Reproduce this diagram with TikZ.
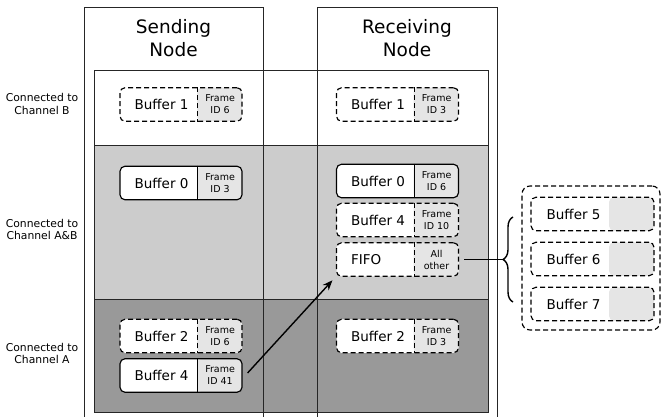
\documentclass[tikz,border=0pt]{standalone}
\usepackage{fontspec}
\setmainfont{DejaVu Sans}
\usetikzlibrary{arrows.meta,decorations.pathreplacing}
\definecolor{bandlight}{HTML}{CCCCCC}
\definecolor{banddark}{HTML}{999999}
\definecolor{frameid}{HTML}{E5E5E5}
\tikzset{
  colline/.style={draw=black!85,line width=0.9pt},
  band/.style={draw=black!85,line width=0.9pt},
  buf/.style={draw=black,line width=1.15pt,rounded corners=5pt,fill=white,
    minimum width=122pt,minimum height=33.5pt,inner sep=0pt,
    path picture={\fill[frameid] ([xshift=-45pt]path picture bounding box.north east) rectangle (path picture bounding box.south east);}},
  bufdash/.style={dash pattern=on 5pt off 3pt},
  bufline/.style={draw=black,line width=1.15pt},
  buflabel/.style={anchor=west,inner sep=0pt,font=\fontsize{13.5}{16}\selectfont},
  framelabel/.style={align=center,inner sep=0pt,font=\fontsize{9.5}{12}\selectfont},
  header/.style={align=center,inner sep=0pt,font=\fontsize{18.5}{23}\selectfont},
  sidelabel/.style={align=center,inner sep=0pt,font=\fontsize{10.8}{12.5}\selectfont},
  group/.style={draw=black,line width=1.15pt,rounded corners=8pt,dash pattern=on 5pt off 3pt,
    minimum width=138pt,minimum height=144pt,inner sep=0pt},
  flow/.style={line width=1.4pt,-{Stealth[length=10pt,width=8pt]}},
  link/.style={line width=1.4pt},
}
\newcommand{\bufnode}[5][]{%
  \node[buf,#1] (#2) at (#3) {};
  \draw[bufline,#1] ([xshift=-45pt]#2.north east) -- ([xshift=-45pt]#2.south east);
  \node[buflabel] (#2-l) at ([xshift=15pt]#2.west) {#4};
  \node[framelabel] (#2-f) at ([xshift=-22.5pt]#2.east) {#5};
}
\begin{document}
\begin{tikzpicture}[x=1pt,y=-1pt]
\useasboundingbox (0,0) rectangle (661,417);
% bands
\fill[white] (94,70) rectangle (488,145);
\fill[bandlight] (94,145) rectangle (488,299);
\fill[banddark] (94,299) rectangle (488,412);
\draw[band] (94,70) rectangle (488,412);
\draw[band] (94,145) -- (488,145);
\draw[band] (94,299) -- (488,299);
% columns
\draw[colline] (84,417) -- (84,7) -- (263,7) -- (263,417);
\draw[colline] (317,417) -- (317,7) -- (497,7) -- (497,417);
% headers
\node[header] (hs) at (173.5,38.5) {Sending\\Node};
\node[header] (hr) at (407,38.5) {Receiving\\Node};
% side labels
\node[sidelabel] (lb) at (42,104) {Connected to\\Channel B};
\node[sidelabel] (lab) at (42,229.5) {Connected to\\Channel A\&B};
\node[sidelabel] (la) at (42,353.5) {Connected to\\Channel A};
% sending buffers
\bufnode[bufdash]{sb1}{181,104.5}{Buffer 1}{Frame\\ID 6}
\bufnode{sb0}{181,183}{Buffer 0}{Frame\\ID 3}
\bufnode[bufdash]{sb2}{181,336}{Buffer 2}{Frame\\ID 6}
\bufnode{sb4}{181,375.5}{Buffer 4}{Frame\\ID 41}
% receiving buffers
\bufnode[bufdash]{rb1}{397.5,104.5}{Buffer 1}{Frame\\ID 3}
\bufnode{rb0}{397.5,181}{Buffer 0}{Frame\\ID 6}
\bufnode[bufdash]{rb4}{397.5,220}{Buffer 4}{Frame\\ID 10}
\bufnode[bufdash]{fifo}{397.5,259.5}{FIFO}{All\\other}
\bufnode[bufdash]{rb2}{397.5,336}{Buffer 2}{Frame\\ID 3}
% FIFO group
\node[group] (grp) at (591,258) {};
\node[buf,bufdash,minimum width=123pt] (b5) at (592.5,214) {};
\node[buflabel] (b5-l) at ([xshift=16pt]b5.west) {Buffer 5};
\node[buf,bufdash,minimum width=123pt] (b6) at (592.5,259) {};
\node[buflabel] (b6-l) at ([xshift=16pt]b6.west) {Buffer 6};
\node[buf,bufdash,minimum width=123pt] (b7) at (592.5,304) {};
\node[buflabel] (b7-l) at ([xshift=16pt]b7.west) {Buffer 7};
% brace
\coordinate (bracebot) at (513,302);
\coordinate (bracetop) at (513,217);
\coordinate (bracetip) at (503,259.5);
\draw[link,decorate,decoration={brace,amplitude=10pt}] (bracebot) -- (bracetop);
\draw[link,shorten <=5pt] (fifo.east) -- (bracetip);
% arrow
\draw[flow] ([xshift=5pt,yshift=2.5pt]sb4.east) -- ([xshift=-3.5pt,yshift=-3.5pt]fifo.south west);
\end{tikzpicture}
\end{document}
